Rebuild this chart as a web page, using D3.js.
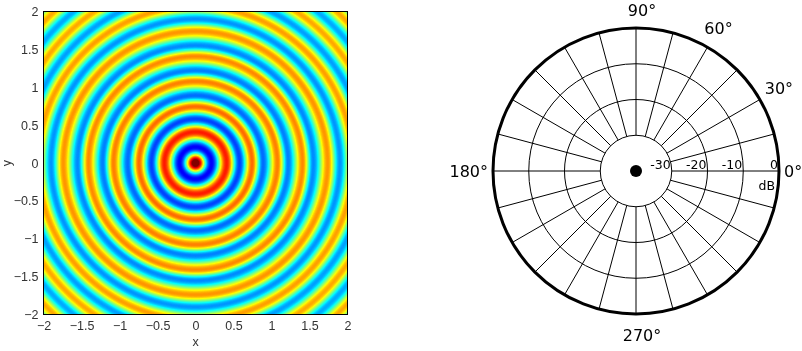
<!DOCTYPE html>
<html>
<head>
<meta charset="utf-8">
<script src="https://cdn.jsdelivr.net/npm/d3@7"></script>
<style>
  html, body { margin: 0; padding: 0; background: #fff; }
  #wrap { position: relative; width: 802px; height: 351px; overflow: hidden; }
  #wrap canvas, #wrap svg { position: absolute; left: 0; top: 0; }
</style>
</head>
<body>
<div id="wrap">
  <canvas id="field" width="802" height="351"></canvas>
  <svg id="chart" width="802" height="351"></svg>
</div>
<script>
// Radial profile of the ring field: radius of each crest / trough and its level on the jet map (0..1, clipped)
const ringRadius = [0, 0.21, 0.41, 0.58, 0.745, 0.89, 1.08, 1.22, 1.41, 1.55, 1.74, 1.90, 2.07, 2.23, 2.40, 2.56, 2.73, 2.89];
const ringLevel  = [1.10, 0.12, 0.85, 0.19, 0.77, 0.23, 0.75, 0.25, 0.74, 0.26, 0.73, 0.27, 0.72, 0.28, 0.71, 0.29, 0.71, 0.30];

// Axis ticks of the field plot
const xTicks = [-2, -1.5, -1, -0.5, 0, 0.5, 1, 1.5, 2];
const yTicks = [-2, -1.5, -1, -0.5, 0, 0.5, 1, 1.5, 2];

// Polar grid
const dbRings = [-30, -20, -10, 0];
const dbLabels = ["-30", "-20", "-10", "0"];
const spokeAngles = [0, 15, 30, 45, 60, 75, 90, 105, 120, 135, 150, 165, 180, 195, 210, 225, 240, 255, 270, 285, 300, 315, 330, 345];
const angleLabels = [0, 30, 60, 90, 180, 270];

// ---------- field plot ----------
const box = { left: 43.5, right: 347.5, top: 11.5, bottom: 314.5 };
const x = d3.scaleLinear().domain([-2, 2]).range([box.left, box.right]);
const y = d3.scaleLinear().domain([-2, 2]).range([box.bottom, box.top]);

// jet colour map
const jet = d3.scaleLinear()
  .domain([0, 0.125, 0.375, 0.625, 0.875, 1])
  .range(["#000080", "#0000ff", "#00ffff", "#ffff00", "#ff0000", "#800000"])
  .clamp(true);
const lut = d3.range(256).map(i => d3.rgb(jet(i / 255)));

// level at a radius, eased between neighbouring crest and trough
function levelAt(r) {
  const i = d3.bisectRight(ringRadius, r) - 1;
  if (i >= ringRadius.length - 1) return ringLevel[ringLevel.length - 1];
  const t = (r - ringRadius[i]) / (ringRadius[i + 1] - ringRadius[i]);
  return d3.interpolateNumber(ringLevel[i], ringLevel[i + 1])(d3.easeSinInOut(t));
}

const ctx = document.getElementById("field").getContext("2d");
const px0 = Math.ceil(box.left), px1 = Math.floor(box.right);
const py0 = Math.ceil(box.top), py1 = Math.floor(box.bottom);
const w = px1 - px0 + 1, h = py1 - py0 + 1;
const img = ctx.createImageData(w, h);
for (let j = 0; j < h; j++) {
  const yv = y.invert(py0 + j + 0.5);
  for (let i = 0; i < w; i++) {
    const xv = x.invert(px0 + i + 0.5);
    const v = levelAt(Math.hypot(xv, yv));
    const c = lut[Math.max(0, Math.min(255, Math.round(v * 255)))];
    const k = (j * w + i) * 4;
    img.data[k] = c.r; img.data[k + 1] = c.g; img.data[k + 2] = c.b; img.data[k + 3] = 255;
  }
}
ctx.putImageData(img, px0, py0);

const svg = d3.select("#chart");
const tickFont = "'Liberation Sans', Arial, sans-serif";

svg.append("rect")
  .attr("x", box.left).attr("y", box.top)
  .attr("width", box.right - box.left).attr("height", box.bottom - box.top)
  .attr("fill", "none").attr("stroke", "#000").attr("stroke-width", 1);

const xAxis = svg.append("g")
  .attr("transform", `translate(0,${box.bottom})`)
  .call(d3.axisBottom(x).tickValues(xTicks).tickSize(0).tickPadding(7).tickFormat(d3.format("")));
const yAxis = svg.append("g")
  .attr("transform", `translate(${box.left},0)`)
  .call(d3.axisLeft(y).tickValues(yTicks).tickSize(0).tickPadding(5).tickFormat(d3.format("")));
[xAxis, yAxis].forEach(g => {
  g.select(".domain").remove();
  g.selectAll("text").attr("font-family", tickFont).attr("font-size", 12.5).attr("fill", "#333");
});

svg.append("text").attr("x", x(0)).attr("y", 346)
  .attr("text-anchor", "middle").attr("font-family", tickFont).attr("font-size", 12.5).attr("fill", "#333")
  .text("x");
svg.append("text").attr("transform", `translate(11,${y(0)}) rotate(-90)`)
  .attr("text-anchor", "middle").attr("font-family", tickFont).attr("font-size", 12.5).attr("fill", "#333")
  .text("y");

// ---------- polar grid ----------
const cx = 636, cy = 171, R = 143;
const rad = d3.scaleLinear().domain([-40, 0]).range([0, R]);
const polarFont = "'DejaVu Sans', Verdana, sans-serif";
const P = svg.append("g").attr("transform", `translate(${cx},${cy})`);
const toXY = (deg, r) => [r * Math.cos(deg * Math.PI / 180), -r * Math.sin(deg * Math.PI / 180)];

P.selectAll("line.spoke").data(spokeAngles).join("line")
  .attr("class", "spoke")
  .attr("x1", d => toXY(d, rad(-30))[0]).attr("y1", d => toXY(d, rad(-30))[1])
  .attr("x2", d => toXY(d, R)[0]).attr("y2", d => toXY(d, R)[1])
  .attr("stroke", "#000").attr("stroke-width", 1);

P.selectAll("circle.ring").data(dbRings).join("circle")
  .attr("class", "ring")
  .attr("r", d => rad(d))
  .attr("fill", "none").attr("stroke", "#000")
  .attr("stroke-width", d => d === 0 ? 3 : 1);

P.append("circle").attr("r", 6).attr("fill", "#000");

P.selectAll("text.db").data(dbRings).join("text")
  .attr("class", "db")
  .attr("x", d => rad(d) - 1).attr("y", -2)
  .attr("text-anchor", "end")
  .attr("font-family", polarFont).attr("font-size", 12.5).attr("fill", "#000")
  .text((d, i) => dbLabels[i]);
P.append("text").attr("x", rad(0) - 4).attr("y", 19)
  .attr("text-anchor", "end").attr("font-family", polarFont).attr("font-size", 12.5).attr("fill", "#000")
  .text("dB");

P.selectAll("text.ang").data(angleLabels).join("text")
  .attr("class", "ang")
  .each(function (d) {
    const t = d3.select(this);
    if (d === 0) {
      t.attr("x", R + 5).attr("y", 0).attr("text-anchor", "start");
    } else if (d === 180) {
      t.attr("x", -R - 5).attr("y", 0).attr("text-anchor", "end");
    } else {
      const dist = d === 90 ? R + 18 : d === 270 ? R + 21 : R + 22;
      const [px, py] = toXY(d, dist);
      t.attr("x", px + ((d === 90 || d === 270) ? 6 : 0)).attr("y", py).attr("text-anchor", "middle");
    }
  })
  .attr("dominant-baseline", "central")
  .attr("font-family", polarFont).attr("font-size", 16).attr("fill", "#000")
  .text(d => d + "°");
</script>
</body>
</html>
